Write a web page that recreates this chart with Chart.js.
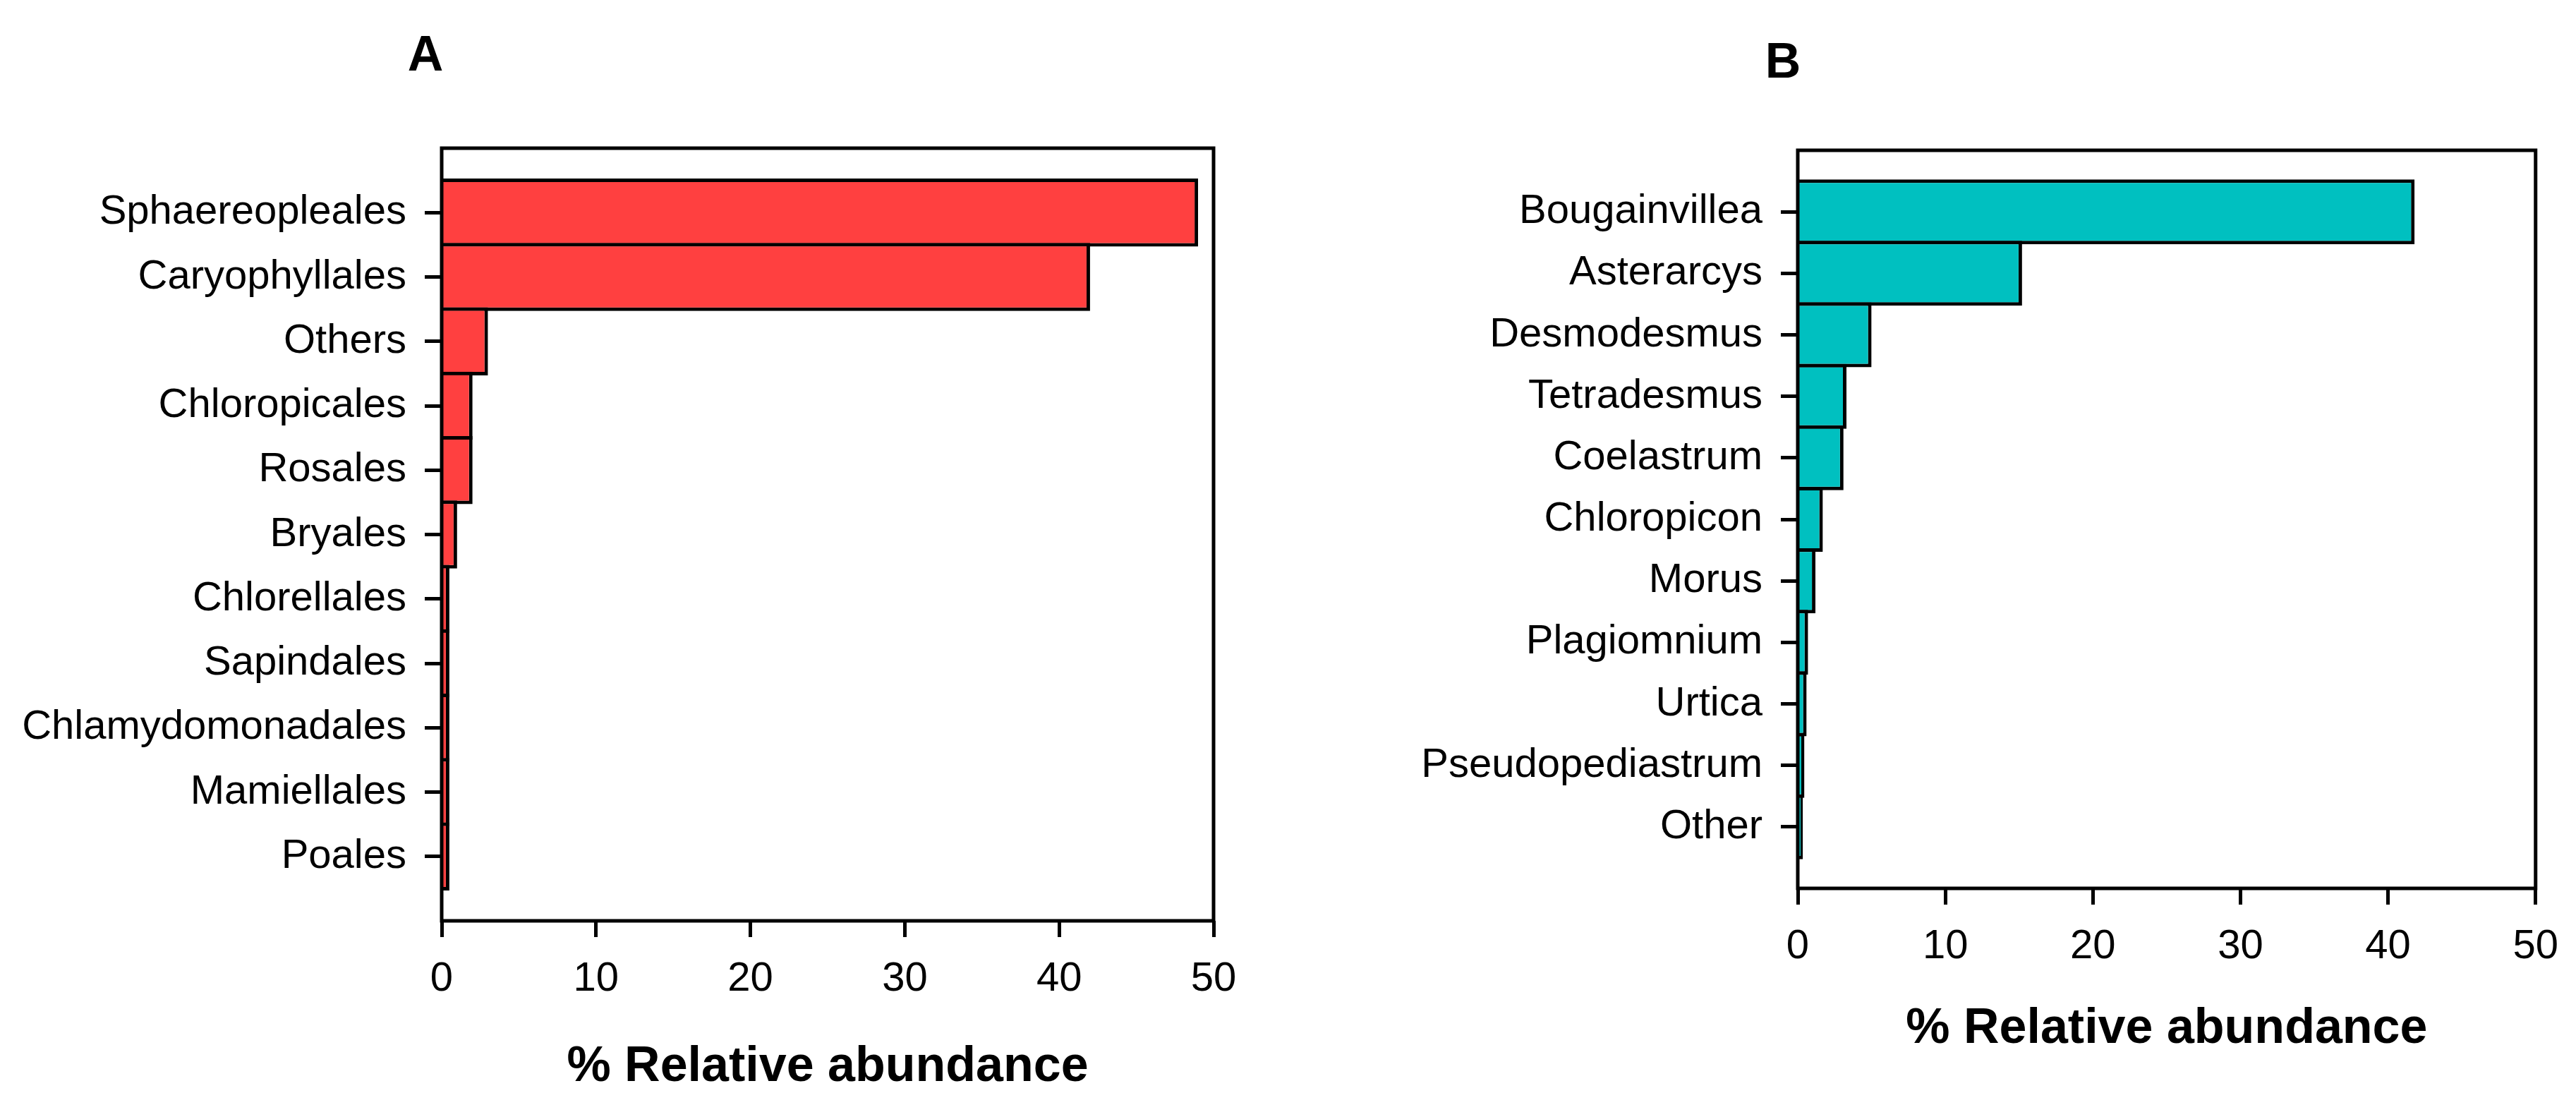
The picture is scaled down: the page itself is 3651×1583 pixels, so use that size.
<!DOCTYPE html>
<html>
<head>
<meta charset="utf-8">
<script src="https://cdn.jsdelivr.net/npm/chart.js@4/dist/chart.umd.min.js"></script>
<style>
  html, body { margin: 0; padding: 0; background: #fff; }
  body { width: 3651px; height: 1583px; position: relative; overflow: hidden; font-family: "Liberation Sans", Arial, sans-serif; }
  .panel { position: absolute; top: 0; height: 1583px; }
  .letter { position: absolute; font-weight: bold; font-size: 70px; line-height: 70px; transform: translate(-50%, -50%); color: #000; }
</style>
</head>
<body>
<div class="letter" style="left:603px; top:76px;">A</div>
<div class="letter" style="left:2527px; top:86px;">B</div>
<div class="panel" style="left:0px; width:1830px;"><canvas id="chartA"></canvas></div>
<div class="panel" style="left:1830px; width:1821px;"><canvas id="chartB"></canvas></div>
<script>
// ---- Data ----
const categoriesA = ["Sphaereopleales", "Caryophyllales", "Others", "Chloropicales", "Rosales", "Bryales",
  "Chlorellales", "Sapindales", "Chlamydomonadales", "Mamiellales", "Poales"];
const valuesA = [49, 42, 3, 2, 2, 1, 0.5, 0.5, 0.5, 0.5, 0.5];

const categoriesB = ["Bougainvillea", "Asterarcys", "Desmodesmus", "Tetradesmus", "Coelastrum", "Chloropicon",
  "Morus", "Plagiomnium", "Urtica", "Pseudopediastrum", "Other"];
const valuesB = [41.8, 15.2, 5.0, 3.3, 3.1, 1.7, 1.2, 0.7, 0.6, 0.45, 0.35];

const xTicks = [0, 10, 20, 30, 40, 50];
const axisTitle = "% Relative abundance";

const colorA = "#FF4040";
const colorB = "#00C0C0";

// ---- Helpers ----
const FONT = "'Liberation Sans', Arial, sans-serif";

const framePlugin = {
  id: 'frame',
  afterDatasetsDraw(chart) {
    const {ctx, chartArea: a} = chart;
    ctx.save();
    ctx.strokeStyle = '#000';
    ctx.lineWidth = 5;
    ctx.lineCap = 'square';
    ctx.beginPath();
    ctx.rect(a.left, a.top, a.right - a.left, a.bottom - a.top);
    ctx.stroke();
    ctx.restore();
  }
};

function makeChart(id, cats, vals, color, opts) {
  const points = cats.map((c, i) => ({ x: vals[i], y: i }));
  return new Chart(document.getElementById(id), {
    type: 'bar',
    data: {
      datasets: [{
        data: points,
        backgroundColor: color,
        borderColor: '#000',
        borderWidth: 5,
        barPercentage: 1.055,
        categoryPercentage: 1
      }]
    },
    options: {
      indexAxis: 'y',
      responsive: true,
      maintainAspectRatio: false,
      animation: false,
      layout: { padding: { left: 0, right: opts.padRight, top: opts.padTop, bottom: opts.padBottom } },
      plugins: { legend: { display: false }, tooltip: { enabled: false }, title: { display: false } },
      scales: {
        x: {
          type: 'linear',
          position: 'bottom',
          offset: false,
          min: xTicks[0],
          max: xTicks[xTicks.length - 1],
          afterBuildTicks: (scale) => { scale.ticks = xTicks.map(v => ({ value: v })); },
          ticks: { color: '#000', font: { family: FONT, size: 58 }, padding: 25, maxRotation: 0, autoSkip: false },
          grid: { offset: false, drawOnChartArea: false, drawTicks: true, tickLength: 23, tickWidth: 5, color: '#000' },
          border: { display: false },
          title: { display: true, text: axisTitle, color: '#000', font: { family: FONT, size: 70, weight: 'bold' }, padding: { top: 0, bottom: 0 } },
          afterFit: (scale) => { scale.height = opts.xHeight; }
        },
        y: {
          type: 'linear',
          position: 'left',
          reverse: true,
          offset: false,
          min: -1,
          max: cats.length,
          afterBuildTicks: (scale) => { scale.ticks = cats.map((c, i) => ({ value: i })); },
          ticks: {
            color: '#000', font: { family: FONT, size: 58 }, padding: 26, autoSkip: false,
            callback: (v) => cats[v] !== undefined ? cats[v] : ''
          },
          grid: { offset: false, drawOnChartArea: false, drawTicks: true, tickLength: 24, tickWidth: 5, color: '#000' },
          border: { display: false },
          afterFit: (scale) => { scale.width = opts.yWidth; }
        }
      }
    },
    plugins: [framePlugin]
  });
}

makeChart('chartA', categoriesA, valuesA, colorA, { yWidth: 626, padRight: 110, padTop: 210, padBottom: 28, xHeight: 250 });
makeChart('chartB', categoriesB, valuesB, colorB, { yWidth: 718, padRight: 57, padTop: 213, padBottom: 82, xHeight: 242 });
</script>
</body>
</html>
